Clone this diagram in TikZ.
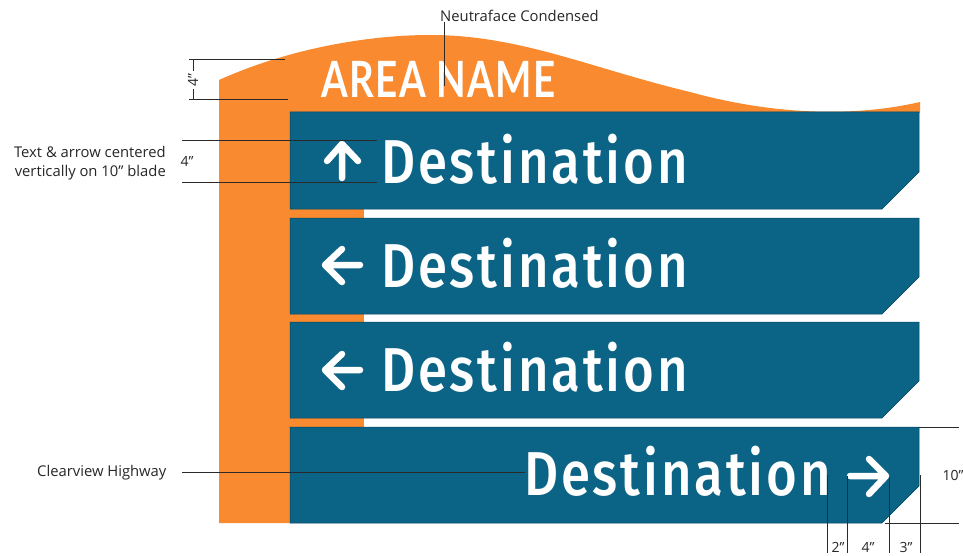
\documentclass[tikz,border=0pt]{standalone}
\usepackage{fontspec}
\setmainfont{Open Sans}
\newfontfamily\destfont[FakeStretch=0.85,LetterSpace=4.6]{Fira Sans Medium}
\newfontfamily\areafont[FakeStretch=0.77,LetterSpace=2.8]{Lato Bold}
\definecolor{signorange}{HTML}{F98A2F}
\definecolor{signblue}{HTML}{0B6386}
\definecolor{dimline}{HTML}{2A2A2A}
\tikzset{
  bladebox/.style={fill=signblue,draw=signblue!70!black,line width=0.5pt},
  dest/.style={anchor=base west,inner sep=0pt,text=white,font=\destfont\fontsize{62}{62}\selectfont},
  arrowline/.style={draw=white,line width=6.5pt,line cap=round,line join=round},
  dim/.style={draw=dimline,line width=0.8pt},
  lbl/.style={inner sep=0pt,text=black!85,font=\fontsize{14.8}{19}\selectfont,align=right},
  numlbl/.style={inner sep=0pt,text=black!85,font=\fontsize{14}{17}\selectfont}
}
\begin{document}
\begin{tikzpicture}[x=1pt,y=-1pt]
\useasboundingbox (0,0) rectangle (963,556);
% orange backing
\fill[signorange] (219,80) .. controls (290,48) and (370,35) .. (430,35)
  .. controls (520,35) and (590,68) .. (690,92)
  .. controls (770,114) and (850,118) .. (920,102)
  -- (920,113) -- (290,113) -- (290,523) -- (219,523) -- cycle;
\fill[signorange] (289,208) rectangle (364,219);
\fill[signorange] (289,313) rectangle (364,323);
\fill[signorange] (289,417) rectangle (364,428);
% blades
\draw[bladebox] (290,112) -- (919,112) -- (919,172) -- (882,209) -- (290,209) -- cycle;
\draw[bladebox] (290,218) -- (919,218) -- (919,277) -- (882,314) -- (290,314) -- cycle;
\draw[bladebox] (290,322) -- (919,322) -- (919,381) -- (882,418) -- (290,418) -- cycle;
\draw[bladebox] (290,427) -- (919,427) -- (919,486) -- (882,523) -- (290,523) -- cycle;
% area name
\node[anchor=base west,inner sep=0pt,text=white,font=\areafont\fontsize{50}{50}\selectfont] (area) at (321,98) {AREA NAME};
% destinations
\node[dest] (d1) at (381,183) {Destination};
\node[dest] (d2) at (381,287) {Destination};
\node[dest] (d3) at (381,391) {Destination};
\node[dest] (d4) at (524,495) {Destination};
% arrows
\draw[arrowline] (342,178) -- (342,144) (327,161) -- (342,144) -- (358,161);
\draw[arrowline] (360,265) -- (325,265) (342,249) -- (325,265) -- (342,282);
\draw[arrowline] (360,370) -- (325,370) (342,354) -- (325,370) -- (342,387);
\draw[arrowline] (850,476) -- (886,476) (869,459) -- (886,476) -- (869,494);
% labels
\node[lbl,anchor=west] (neutra) at (440,16) {Neutraface Condensed};
\node[lbl,anchor=east] (textc) at (166,163) {Text \& arrow centered\\vertically on 10" blade};
\node[lbl,anchor=west] (clear) at (37,473) {Clearview Highway};
\node[numlbl] (f1) at (193,80) [rotate=90] {4"};
\node[numlbl] (f2) at (187,161) {4"};
\node[numlbl] (ten) at (953,475) {10"};
\node[numlbl] (two) at (838,547) {2"};
\node[numlbl] (four) at (868,547) {4"};
\node[numlbl] (three) at (906,547) {3"};
% leaders
\coordinate (na) at (444,86);
\coordinate (cl) at (182,472);
\draw[dim] (neutra.south west -| na) -- (na);
\draw[dim] (189,59) -- (285,59) (189,99) -- (288,99);
\draw[dim] (f1.east) ++(0,-2) -- (193,59);
\draw[dim] (f1.west) ++(0,2) -- (193,99);
\draw[dim] (182,140) -- (377,140) (182,182) -- (377,182);
\draw[dim] (cl) -- (525,472);
\draw[dim] (919,427) -- (959,427) (885,523) -- (959,523);
\draw[dim] (827,475) -- (827,553);
\draw[dim] (847,476) -- (847,553);
\draw[dim] (889,477) -- (889,553);
\draw[dim] (920,475) -- (920,553);
\end{tikzpicture}
\end{document}
